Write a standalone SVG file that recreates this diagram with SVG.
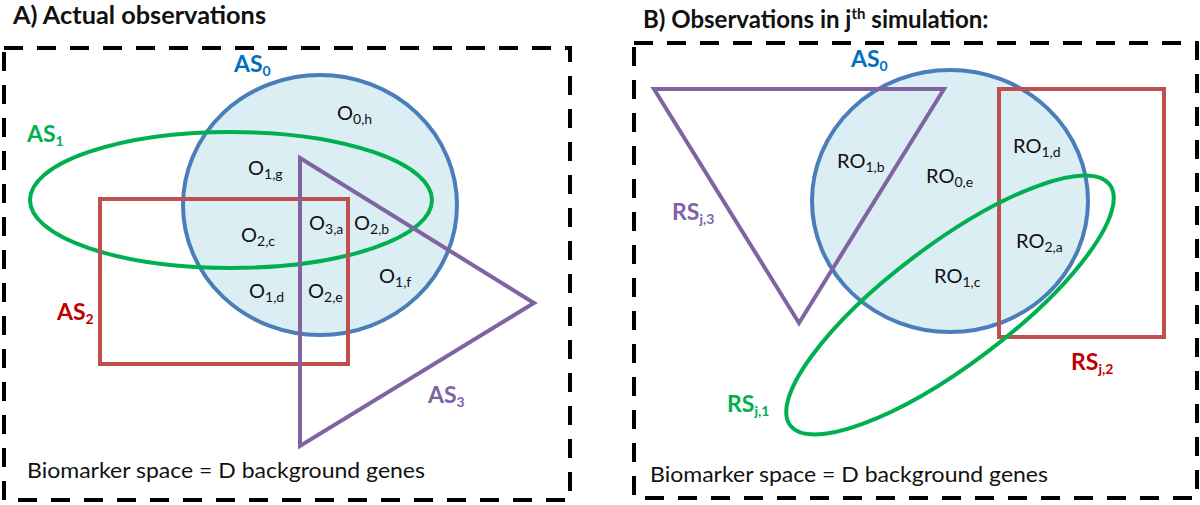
<svg xmlns="http://www.w3.org/2000/svg" width="1200" height="505" viewBox="0 0 1200 505">
<style>
  text { font-family: Lato, "Liberation Sans", sans-serif; fill: #111; }
  .title { font-weight: bold; font-size: 24px; }
  .lbl { font-size: 20px; }
  .set { font-weight: bold; font-size: 23px; }
  .sub { font-size: 14px; }
  .bg { font-size: 21px; }
  .frame { fill: none; stroke: #000; stroke-width: 4; stroke-dasharray: 19 14; }
  .circ { fill: #dbeef4; stroke: #4a7ebb; stroke-width: 4; }
  .grn { fill: none; stroke: #00b050; stroke-width: 4; }
  .red { fill: none; stroke: #c0504d; stroke-width: 4; }
  .pur { fill: none; stroke: #8064a2; stroke-width: 4; stroke-linejoin: miter; }
  .tblue { fill: #0070c0; }
  .tgreen { fill: #00b050; }
  .tred { fill: #c00000; }
  .tpur { fill: #7f62a6; }
</style>
<rect width="1200" height="505" fill="#fff"/>

<!-- Panel A -->
<g id="panelA">
  <text class="title" x="13" y="24" textLength="253" lengthAdjust="spacingAndGlyphs">A) Actual observations</text>
  <rect id="frameA" class="frame" x="4" y="48" width="566" height="452"/>
</g>
<g id="AS0">
  <ellipse class="circ" cx="320" cy="205" rx="137" ry="130"/>
  <text class="set tblue" x="234" y="72">AS<tspan class="sub" dy="4">0</tspan></text>
</g>
<g id="AS1">
  <ellipse class="grn" cx="231" cy="200" rx="201" ry="68"/>
  <text class="set tgreen" x="27" y="142">AS<tspan class="sub" dy="4">1</tspan></text>
</g>
<g id="AS2">
  <rect class="red" x="100" y="199" width="248" height="165"/>
  <text class="set tred" x="57" y="320">AS<tspan class="sub" dy="4">2</tspan></text>
</g>
<g id="AS3">
  <polygon class="pur" points="300,158 534,303 300,446"/>
  <text class="set tpur" x="428" y="403">AS<tspan class="sub" dy="4">3</tspan></text>
</g>
<g id="regionsA">
  <text class="lbl" x="337" y="120">O<tspan class="sub" dy="4">0,h</tspan></text>
  <text class="lbl" x="248" y="175">O<tspan class="sub" dy="4">1,g</tspan></text>
  <text class="lbl" x="241" y="242">O<tspan class="sub" dy="4">2,c</tspan></text>
  <text class="lbl" x="309" y="230">O<tspan class="sub" dy="4">3,a</tspan></text>
  <text class="lbl" x="354" y="230">O<tspan class="sub" dy="4">2,b</tspan></text>
  <text class="lbl" x="379" y="283">O<tspan class="sub" dy="4">1,f</tspan></text>
  <text class="lbl" x="249" y="298">O<tspan class="sub" dy="4">1,d</tspan></text>
  <text class="lbl" x="308" y="298">O<tspan class="sub" dy="4">2,e</tspan></text>
  <text class="bg" x="27" y="478" textLength="398" lengthAdjust="spacingAndGlyphs">Biomarker space = D background genes</text>
</g>

<!-- Panel B -->
<g id="panelB">
  <text class="title" x="643" y="28" font-size="25">B) Observations in j<tspan font-size="15" dy="-9">th</tspan><tspan dy="9"> simulation:</tspan></text>
  <rect id="frameB" class="frame" x="634" y="43" width="563" height="455"/>
</g>
<g id="B_AS0">
  <ellipse class="circ" cx="950" cy="201" rx="138" ry="131"/>
  <text class="set tblue" x="851" y="67">AS<tspan class="sub" dy="4">0</tspan></text>
</g>
<g id="RSj3">
  <polygon class="pur" points="654,89 944,89 799,323"/>
  <text class="set tpur" x="672" y="220">RS<tspan class="sub" dy="4">j,3</tspan></text>
</g>
<g id="RSj2">
  <rect class="red" x="999" y="89" width="165" height="248"/>
  <text class="set tred" x="1071" y="370">RS<tspan class="sub" dy="4">j,2</tspan></text>
</g>
<g id="RSj1">
  <ellipse class="grn" cx="950" cy="305" rx="200" ry="60" transform="rotate(-37 950 305)"/>
  <text class="set tgreen" x="727" y="412">RS<tspan class="sub" dy="4">j,1</tspan></text>
</g>
<g id="regionsB">
  <text class="lbl" x="837" y="168">RO<tspan class="sub" dy="4">1,b</tspan></text>
  <text class="lbl" x="926" y="183">RO<tspan class="sub" dy="4">0,e</tspan></text>
  <text class="lbl" x="1013" y="153">RO<tspan class="sub" dy="4">1,d</tspan></text>
  <text class="lbl" x="1016" y="248">RO<tspan class="sub" dy="4">2,a</tspan></text>
  <text class="lbl" x="934" y="283">RO<tspan class="sub" dy="4">1,c</tspan></text>
  <text class="bg" x="650" y="482" textLength="398" lengthAdjust="spacingAndGlyphs">Biomarker space = D background genes</text>
</g>
<g id="connectors"></g>
</svg>
